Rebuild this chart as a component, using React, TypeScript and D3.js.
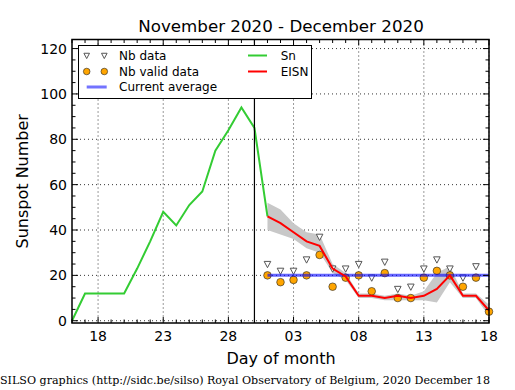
import React, { useEffect, useRef } from "react"
import * as d3 from "d3"

// Sn, Nov 16 -> Dec 1
const snDates = ["2020-11-16", "2020-11-17", "2020-11-18", "2020-11-19", "2020-11-20", "2020-11-21", "2020-11-22", "2020-11-23",
  "2020-11-24", "2020-11-25", "2020-11-26", "2020-11-27", "2020-11-28", "2020-11-29", "2020-11-30", "2020-12-01"]
const snValues = [0, 12, 12, 12, 12, 23, 35, 48, 42, 51, 57, 75, 84, 94, 85, 46]

// EISN and friends, Dec 1 -> Dec 18
const eisnDates = ["2020-12-01", "2020-12-02", "2020-12-03", "2020-12-04", "2020-12-05", "2020-12-06", "2020-12-07", "2020-12-08", "2020-12-09",
  "2020-12-10", "2020-12-11", "2020-12-12", "2020-12-13", "2020-12-14", "2020-12-15", "2020-12-16", "2020-12-17", "2020-12-18"]
const eisnValues = [46, 43, 39, 35, 33, 23, 19.5, 11, 11, 10, 11, 10, 11, 14, 20, 11, 11, 4.5]
const eisnLow = [40, 38, 36, 32, 30, 21, 18, 10, 10, 9, 9, 9, 9, 8, 17, 10, 10, 2]
const eisnHigh = [52, 49, 43, 39, 38, 25, 21, 12, 12, 11, 12, 11, 13, 21, 24, 12, 12, 7]
const nbData = [25, 22, 22, 27, 37, 23, 23, 25, 19, 26, 14, 15, 23, 27, 23, 19, 24, null]
const nbValid = [20, 17, 18, 20, 29, 15, 19, 20, 13, 21, 10, 10, 19, 22, 20, 15, 19, 4]
const currentAverage = 20

const xDomain = ["2020-11-16", "2020-12-18"]
const xTickDates = ["2020-11-18", "2020-11-23", "2020-11-28", "2020-12-03", "2020-12-08", "2020-12-13", "2020-12-18"]
const markerDate = "2020-11-30"
const yDomain = [-1, 124]
const yTicks = [0, 20, 40, 60, 80, 100, 120]

const title = "November 2020 - December 2020"
const footer = "SILSO graphics (http://sidc.be/silso) Royal Observatory of Belgium, 2020 December 18"

const W = 515, H = 390
const mLeft = 72, mRight = 489, mTop = 39.5, mBottom = 323
const sans = "DejaVu Sans"

const parse = (s: string) => new Date(s + "T00:00:00Z")

function draw(node: SVGSVGElement) {
  const svg = d3.select(node)
  svg.selectAll("*").remove()

  const x = d3.scaleUtc().domain(xDomain.map(parse)).range([mLeft, mRight])
  const y = d3.scaleLinear().domain(yDomain).range([mBottom, mTop])

  svg.append("rect").attr("width", W).attr("height", H).attr("fill", "#fff")

  // grid
  const grid = svg.append("g").attr("stroke", "#000").attr("stroke-width", 0.8).attr("stroke-dasharray", "1,3")
  xTickDates.map(parse).forEach(d => {
    grid.append("line").attr("x1", x(d)).attr("x2", x(d)).attr("y1", mTop).attr("y2", mBottom)
  })
  yTicks.forEach(v => {
    grid.append("line").attr("x1", mLeft).attr("x2", mRight).attr("y1", y(v)).attr("y2", y(v))
  })

  // uncertainty band
  const band = eisnDates.map((d, i) => ({ d: parse(d), lo: eisnLow[i], hi: eisnHigh[i] }))
  svg.append("path")
    .datum(band)
    .attr("fill", "#c8c8c8")
    .attr("d", d3.area<any>().x(p => x(p.d)).y0(p => y(p.lo)).y1(p => y(p.hi)))

  // Sn
  const sn = snDates.map((d, i) => ({ d: parse(d), v: snValues[i] }))
  svg.append("path")
    .datum(sn)
    .attr("fill", "none")
    .attr("stroke", "#33cc33")
    .attr("stroke-width", 2)
    .attr("d", d3.line<any>().x(p => x(p.d)).y(p => y(p.v)))

  // Nb data triangles
  const tri = (cx: number, cy: number, s = 3.3) =>
    `M${cx - s},${cy - s * 0.8}L${cx + s},${cy - s * 0.8}L${cx},${cy + s * 1.1}Z`
  svg.append("g")
    .selectAll("path")
    .data(eisnDates.map((d, i) => ({ d: parse(d), v: nbData[i] })).filter(p => p.v != null))
    .join("path")
    .attr("d", p => tri(x(p.d), y(p.v)))
    .attr("fill", "#fff")
    .attr("stroke", "#555")
    .attr("stroke-width", 1)

  // Nb valid data circles
  svg.append("g")
    .selectAll("circle")
    .data(eisnDates.map((d, i) => ({ d: parse(d), v: nbValid[i] })))
    .join("circle")
    .attr("cx", p => x(p.d))
    .attr("cy", p => y(p.v))
    .attr("r", 3.8)
    .attr("fill", "#ffa500")
    .attr("stroke", "#222")
    .attr("stroke-width", 0.6)

  // current average
  svg.append("line")
    .attr("x1", x(parse(eisnDates[0])))
    .attr("x2", x(parse(eisnDates[eisnDates.length - 1])))
    .attr("y1", y(currentAverage))
    .attr("y2", y(currentAverage))
    .attr("stroke", "#0000ff")
    .attr("stroke-opacity", 0.6)
    .attr("stroke-width", 3)

  // EISN
  const eisn = eisnDates.map((d, i) => ({ d: parse(d), v: eisnValues[i] }))
  svg.append("path")
    .datum(eisn)
    .attr("fill", "none")
    .attr("stroke", "#ff0000")
    .attr("stroke-width", 2)
    .attr("d", d3.line<any>().x(p => x(p.d)).y(p => y(p.v)))

  // vertical marker
  svg.append("line")
    .attr("x1", x(parse(markerDate))).attr("x2", x(parse(markerDate)))
    .attr("y1", mTop).attr("y2", mBottom)
    .attr("stroke", "#000").attr("stroke-width", 1.2)

  // ticks (inward, all four sides)
  const ticks = svg.append("g").attr("stroke", "#000").attr("stroke-width", 1)
  const major = 6, minor = 3.5
  const days = d3.utcDay.range(parse(xDomain[0]), d3.utcDay.offset(parse(xDomain[1]), 1))
  const majorSet = new Set(xTickDates)
  days.forEach(d => {
    const len = majorSet.has(d.toISOString().slice(0, 10)) ? major : minor
    ticks.append("line").attr("x1", x(d)).attr("x2", x(d)).attr("y1", mBottom).attr("y2", mBottom - len)
    ticks.append("line").attr("x1", x(d)).attr("x2", x(d)).attr("y1", mTop).attr("y2", mTop + len)
  })
  d3.range(0, 125, 5).forEach(v => {
    const len = v % 20 === 0 ? major : minor
    ticks.append("line").attr("x1", mLeft).attr("x2", mLeft + len).attr("y1", y(v)).attr("y2", y(v))
    ticks.append("line").attr("x1", mRight).attr("x2", mRight - len).attr("y1", y(v)).attr("y2", y(v))
  })

  // frame
  svg.append("rect")
    .attr("x", mLeft).attr("y", mTop)
    .attr("width", mRight - mLeft).attr("height", mBottom - mTop)
    .attr("fill", "none").attr("stroke", "#000").attr("stroke-width", 1.5)

  // tick labels
  const fmt = d3.utcFormat("%d")
  svg.append("g")
    .attr("font-family", sans).attr("font-size", 14).attr("text-anchor", "middle")
    .selectAll("text")
    .data(xTickDates.map(parse))
    .join("text")
    .attr("x", d => x(d))
    .attr("y", 341)
    .text(d => fmt(d))
  svg.append("g")
    .attr("font-family", sans).attr("font-size", 14).attr("text-anchor", "end")
    .selectAll("text")
    .data(yTicks)
    .join("text")
    .attr("x", 67)
    .attr("y", v => y(v))
    .attr("dy", "0.36em")
    .text(v => v)

  // titles
  svg.append("text").attr("x", 281).attr("y", 32).attr("text-anchor", "middle")
    .attr("font-family", sans).attr("font-size", 16.7).text(title)
  svg.append("text").attr("x", 281).attr("y", 364).attr("text-anchor", "middle")
    .attr("font-family", sans).attr("font-size", 16).text("Day of month")
  svg.append("text")
    .attr("transform", `translate(28,${(mTop + mBottom) / 2}) rotate(-90)`)
    .attr("text-anchor", "middle")
    .attr("font-family", sans).attr("font-size", 16).text("Sunspot Number")
  svg.append("text").attr("x", 0).attr("y", 384)
    .attr("font-family", "DejaVu Serif").attr("font-size", 11.1).text(footer)

  // legend
  const lg = svg.append("g").attr("font-family", sans).attr("font-size", 12)
  lg.append("rect").attr("x", 78.5).attr("y", 45.5).attr("width", 233).attr("height", 53)
    .attr("fill", "#fff").attr("stroke", "#000").attr("stroke-width", 1)
  const r1 = 55.5, r2 = 71.5, r3 = 87
  ;[86.7, 104.3].forEach(cx => {
    lg.append("path").attr("d", tri(cx, r1, 2.8)).attr("fill", "#fff").attr("stroke", "#555")
    lg.append("circle").attr("cx", cx).attr("cy", r2).attr("r", 3.3).attr("fill", "#ffa500")
      .attr("stroke", "#222").attr("stroke-width", 0.6)
  })
  lg.append("line").attr("x1", 86.7).attr("x2", 106.7).attr("y1", r3).attr("y2", r3)
    .attr("stroke", "#0000ff").attr("stroke-opacity", 0.55).attr("stroke-width", 3)
  lg.append("line").attr("x1", 248).attr("x2", 267).attr("y1", r1).attr("y2", r1)
    .attr("stroke", "#33cc33").attr("stroke-width", 2)
  lg.append("line").attr("x1", 248).attr("x2", 267).attr("y1", r2).attr("y2", r2)
    .attr("stroke", "#ff0000").attr("stroke-width", 2)
  const labels = [["Nb data", 119, r1], ["Nb valid data", 119, r2], ["Current average", 119, r3], ["Sn", 280.7, r1], ["EISN", 280.7, r2]]
  labels.forEach(([t, lx, ly]) => {
    lg.append("text").attr("x", lx).attr("y", ly).attr("dy", "0.36em").text(t as string)
  })
}

export default function App() {
  const ref = useRef<SVGSVGElement>(null)
  useEffect(() => {
    if (ref.current) draw(ref.current)
  }, [])
  return (
    <svg ref={ref} width={W} height={H} viewBox={`0 0 ${W} ${H}`}
      style={{ position: "absolute", left: 0, top: 0 }} />
  )
}
